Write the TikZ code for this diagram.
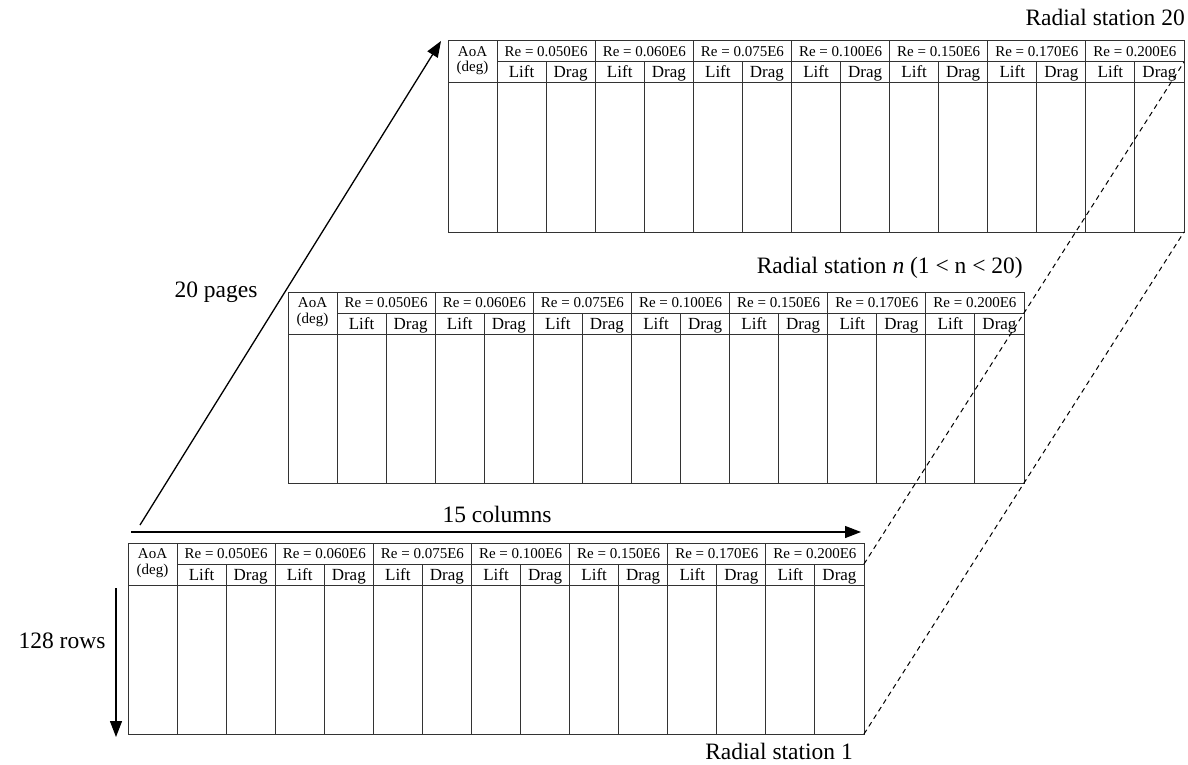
\documentclass[tikz,border=0pt]{standalone}
\usepackage{fontspec}
\setmainfont{Liberation Serif}
\usetikzlibrary{arrows.meta}

\newcommand{\colw}{49.0667}
% one page of the polar table, top left corner at (#2,#3)
\newcommand{\radtable}[3]{%
  \begin{scope}[shift={(#2,#3)}]
    % frame and header rules
    \draw [tabline] (0,0) rectangle ({15*\colw},191);
    \draw [tabline] (0,42) -- ({15*\colw},42);
    \draw [tabline] (\colw,21) -- ({15*\colw},21);
    \foreach \k in {1,3,...,13}
      \draw [tabline] ({\k*\colw},0) -- ({\k*\colw},191);
    \foreach \k in {2,4,...,14}
      \draw [tabline] ({\k*\colw},21) -- ({\k*\colw},191);

    % header text
    \node [hdr] (#1-aoa) at ({0.5*\colw},15.5) {AoA};
    \node [hdr] (#1-deg) at ({0.5*\colw},31) {(deg)};
    \foreach \revalue [count=\i from 0] in {0.050,0.060,0.075,0.100,0.150,0.170,0.200} {
      \node [hdr] (#1-re\i) at ({(2+2*\i)*\colw},15.5) {Re = \revalue E6};
      \node [sub] (#1-lift\i) at ({(1.5+2*\i)*\colw},37) {Lift};
      \node [sub] (#1-drag\i) at ({(2.5+2*\i)*\colw},37) {Drag};
    }

    \coordinate (#1-r1) at ({15*\colw},21);
    \coordinate (#1-br) at ({15*\colw},191);
  \end{scope}}

\begin{document}
\begin{tikzpicture}[x=1pt, y=-1pt,
    tabline/.style={line width=1pt, black!80},
    hdr/.style={inner sep=0pt, anchor=base, font=\fontsize{15}{17}\selectfont},
    sub/.style={inner sep=0pt, anchor=base, font=\fontsize{17}{19}\selectfont},
    lbl/.style={inner sep=0pt, font=\fontsize{23.5}{27}\selectfont},
    bigarrow/.style={line width=1.3pt, -{Triangle[length=16pt,width=12pt]}},
    guide/.style={line width=1pt, dash pattern=on 5pt off 4pt}]
    \useasboundingbox (0,0) rectangle (1188,765);

    % Radial stations
    \radtable{bot}{128}{543}
    \radtable{mid}{288}{292}
    \radtable{top}{448}{41}

    \node [lbl, anchor=east] (lbl-top) at (1185,17) {Radial station 20};
    \node [lbl, anchor=east] (lbl-mid) at (1023,268) {Radial station \textit{n} (1 < n < 20)};
    \node [lbl, anchor=east] (lbl-bot) at (853,751) {Radial station 1};

    % Page links
    \draw [guide] (bot-r1) -- (top-r1);
    \draw [guide] (bot-br) -- (top-br);

    % Dimensions
    \coordinate (cols-a) at (131,532);
    \coordinate (cols-b) at (861,532);
    \draw [bigarrow] (cols-a) -- (cols-b);
    \node [lbl] (cols) at (497,514) {15 columns};

    \coordinate (rows-a) at (116,588);
    \coordinate (rows-b) at (116,737);
    \draw [bigarrow] (rows-a) -- (rows-b);
    \node [lbl] (rows) at (62,641) {128 rows};

    \coordinate (pages-a) at (140,525);
    \coordinate (pages-b) at (441,41);
    \draw [bigarrow] (pages-a) -- (pages-b);
    \node [lbl] (pages) at (216,292) {20 pages};
\end{tikzpicture}
\end{document}
